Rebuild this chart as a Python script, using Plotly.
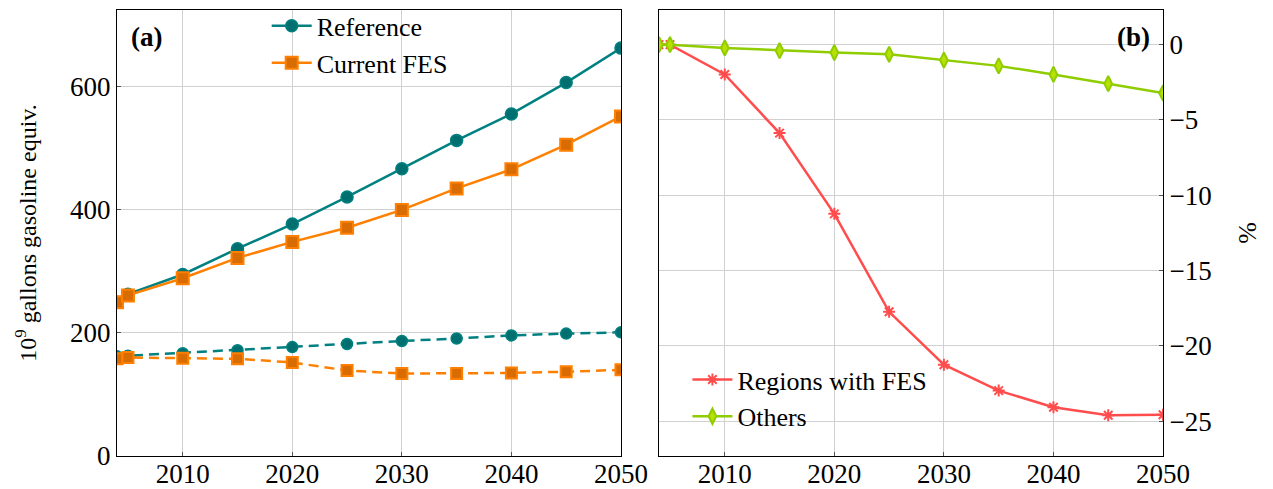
import plotly.graph_objects as go

years = [2004, 2005, 2010, 2015, 2020, 2025, 2030, 2035, 2040, 2045, 2050]

# Panel (a): fuel use, 10^9 gallons gasoline equivalent
reference_total = [250, 263, 295, 337, 377, 421, 467, 513, 556, 607, 663]
fes_total = [250, 261, 289, 322, 348, 371, 400, 435, 466, 506, 552]
reference_lower = [162, 163, 167, 172, 177, 182, 187, 191, 196, 199, 201]
fes_lower = [158, 160, 159, 158, 152, 139, 134, 134, 135, 137, 140]

# Panel (b): percent change
regions_fes = [0, 0, -1.98, -5.87, -11.23, -17.73, -21.24, -22.96, -24.06, -24.6, -24.56]
others = [0, 0, -0.22, -0.4, -0.53, -0.64, -1.03, -1.41, -1.98, -2.59, -3.21]

x_ticks = [2010, 2020, 2030, 2040, 2050]
left_ticks = [0, 200, 400, 600]
right_ticks = [0, -5, -10, -15, -20, -25]

TEAL = "#008080"
ORANGE = "#ff8000"
ORANGE_FILL = "#d96c00"
RED = "#ff4d4d"
GREEN = "#8fcc00"
FONT = "Liberation Serif"
FS = 26
TICK_FS = 27

fig = go.Figure()

fig.add_trace(go.Scatter(
    x=years, y=reference_total, name="Reference", legend="legend",
    mode="lines+markers", line=dict(color=TEAL, width=2.5),
    marker=dict(symbol="circle", size=12, color="#006f6f", line=dict(color=TEAL, width=1.5)),
    xaxis="x", yaxis="y"))
fig.add_trace(go.Scatter(
    x=years, y=fes_total, name="Current FES", legend="legend",
    mode="lines+markers", line=dict(color=ORANGE, width=2.5),
    marker=dict(symbol="square", size=12, color=ORANGE_FILL, line=dict(color=ORANGE, width=2)),
    xaxis="x", yaxis="y"))
fig.add_trace(go.Scatter(
    x=years, y=reference_lower, showlegend=False,
    mode="lines+markers", line=dict(color=TEAL, width=2.5, dash="10px,6px"),
    marker=dict(symbol="circle", size=11, color="#006f6f", line=dict(color=TEAL, width=1.5)),
    xaxis="x", yaxis="y"))
fig.add_trace(go.Scatter(
    x=years, y=fes_lower, showlegend=False,
    mode="lines+markers", line=dict(color=ORANGE, width=2.5, dash="10px,6px"),
    marker=dict(symbol="square", size=11, color=ORANGE_FILL, line=dict(color=ORANGE, width=2)),
    xaxis="x", yaxis="y"))

fig.add_trace(go.Scatter(
    x=years, y=regions_fes, name="Regions with FES", legend="legend2",
    mode="lines+markers", line=dict(color=RED, width=2.5),
    marker=dict(symbol="asterisk-open", size=10, color=RED, line=dict(color=RED, width=2)),
    xaxis="x2", yaxis="y2"))
fig.add_trace(go.Scatter(
    x=years, y=others, name="Others", legend="legend2",
    mode="lines+markers", line=dict(color=GREEN, width=2.5),
    marker=dict(symbol="diamond-tall", size=11, color="#b8e000", line=dict(color=GREEN, width=2)),
    xaxis="x2", yaxis="y2"))

axis_common = dict(
    showline=True, linecolor="black", linewidth=1.2, mirror=True,
    showgrid=True, gridcolor="#d0d0d0", gridwidth=1,
    ticks="inside", ticklen=4, tickcolor="#555555",
    tickfont=dict(family=FONT, size=TICK_FS, color="black"),
    zeroline=False, automargin=False,
)

fig.update_layout(
    width=1273, height=489,
    margin=dict(l=0, r=0, t=0, b=0),
    paper_bgcolor="white", plot_bgcolor="white",
    font=dict(family=FONT, size=FS, color="black"),
    xaxis=dict(domain=[0.0919, 0.4878], range=[2004, 2050], tickvals=x_ticks, anchor="y",
               ticklabelstandoff=-6, **axis_common),
    yaxis=dict(domain=[0.0675, 0.9796], range=[0, 725], tickvals=left_ticks, anchor="x",
               title=dict(text="10<sup>9</sup> gallons gasoline equiv.", font=dict(family=FONT, size=24), standoff=26),
               **axis_common),
    xaxis2=dict(domain=[0.5177, 0.9136], range=[2004, 2050], tickvals=x_ticks, anchor="y2",
                ticklabelstandoff=-6, **axis_common),
    yaxis2=dict(domain=[0.0675, 0.9796], range=[-27.3, 2.3], tickvals=right_ticks, anchor="x2", side="right",
                title=dict(text="%", font=dict(family=FONT, size=FS), standoff=27),
                **axis_common),
    legend=dict(x=0.2095, y=0.995, xanchor="left", yanchor="top",
                bgcolor="rgba(255,255,255,0)", borderwidth=0,
                font=dict(family=FONT, size=FS), tracegroupgap=0, itemwidth=40),
    legend2=dict(x=0.54, y=0.10, xanchor="left", yanchor="bottom",
                 bgcolor="rgba(255,255,255,0)", borderwidth=0,
                 font=dict(family=FONT, size=FS), tracegroupgap=0, itemwidth=40),
    annotations=[
        dict(text="<b>(a)</b>", x=0.101, y=0.925, xref="paper", yref="paper",
             xanchor="left", yanchor="middle", showarrow=False, font=dict(family=FONT, size=27)),
        dict(text="<b>(b)</b>", x=0.905, y=0.925, xref="paper", yref="paper",
             xanchor="right", yanchor="middle", showarrow=False, font=dict(family=FONT, size=27)),
    ],
)

fig.write_html("out.html")
